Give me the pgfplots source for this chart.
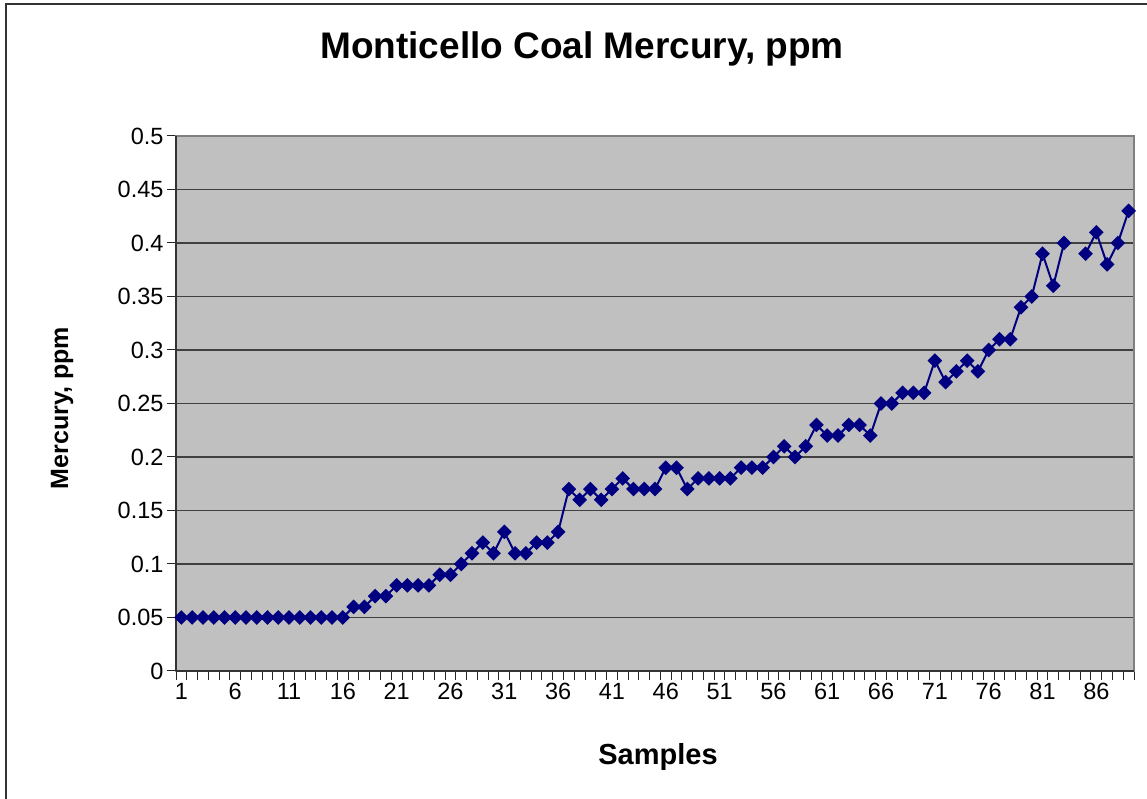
\documentclass[border=0pt]{standalone}
\usepackage{pgfplots}
\pgfplotsset{compat=1.18}
\usepackage{fontspec}
\setmainfont{Liberation Sans}
\definecolor{navyline}{RGB}{0,0,128}
\definecolor{plotbg}{RGB}{192,192,192}
\begin{document}
\begin{tikzpicture}
\path[use as bounding box] (0,0) rectangle (1147pt,799pt);
\draw[line width=2pt, black!80] (6pt,0) -- (6pt,795pt) -- (1147pt,795pt);
\begin{axis}[
  at={(176pt,128pt)}, anchor=south west,
  scale only axis, width=958pt, height=535pt,
  xmin=0.5, xmax=89.5, ymin=0, ymax=0.5,
  axis background/.style={fill=plotbg},
  axis line style={draw=black!50, line width=1.5pt},
  tick pos=left, tick align=outside,
  major tick length=9pt,
  every tick/.style={black!85, line width=1pt},
  xtick={0.5,1.5,...,89.5},
  xticklabels={1,,,,,6,,,,,11,,,,,16,,,,,21,,,,,26,,,,,31,,,,,36,,,,,41,,,,,46,,,,,51,,,,,56,,,,,61,,,,,66,,,,,71,,,,,76,,,,,81,,,,,86,,,,},
  xticklabel style={xshift=5.38pt},
  ytick={0,0.05,0.1,0.15,0.2,0.25,0.3,0.35,0.4,0.45,0.5},
  yticklabel style={/pgf/number format/fixed, /pgf/number format/precision=2},
  /pgf/number format/assume math mode=true,
  ticklabel style={font=\fontsize{23.5}{28}\selectfont},
  ymajorgrids,
  major grid style={black!75, line width=1.3pt},
  unbounded coords=jump,
  clip=false,
]
\addplot[navyline, line width=2pt, mark=square*, mark size=4.2pt, mark options={rotate=45, solid, fill=navyline}] table[x=s, y=hg] {
s hg
1 0.05
2 0.05
3 0.05
4 0.05
5 0.05
6 0.05
7 0.05
8 0.05
9 0.05
10 0.05
11 0.05
12 0.05
13 0.05
14 0.05
15 0.05
16 0.05
17 0.06
18 0.06
19 0.07
20 0.07
21 0.08
22 0.08
23 0.08
24 0.08
25 0.09
26 0.09
27 0.10
28 0.11
29 0.12
30 0.11
31 0.13
32 0.11
33 0.11
34 0.12
35 0.12
36 0.13
37 0.17
38 0.16
39 0.17
40 0.16
41 0.17
42 0.18
43 0.17
44 0.17
45 0.17
46 0.19
47 0.19
48 0.17
49 0.18
50 0.18
51 0.18
52 0.18
53 0.19
54 0.19
55 0.19
56 0.20
57 0.21
58 0.20
59 0.21
60 0.23
61 0.22
62 0.22
63 0.23
64 0.23
65 0.22
66 0.25
67 0.25
68 0.26
69 0.26
70 0.26
71 0.29
72 0.27
73 0.28
74 0.29
75 0.28
76 0.30
77 0.31
78 0.31
79 0.34
80 0.35
81 0.39
82 0.36
83 0.40
84 nan
85 0.39
86 0.41
87 0.38
88 0.40
89 0.43
};
\draw[black!80, line width=1.5pt] (rel axis cs:0,0) -- (rel axis cs:0,1);
\draw[black!80, line width=1.5pt] (rel axis cs:0,0) -- (rel axis cs:1,0);
\end{axis}
\node[anchor=base, font=\fontsize{37}{42}\selectfont\bfseries] at (582pt,740pt) {Monticello Coal Mercury, ppm};
\node[anchor=base, rotate=90, font=\fontsize{25}{30}\selectfont\bfseries] at (68pt,391pt) {Mercury, ppm};
\node[anchor=base, font=\fontsize{29}{34}\selectfont\bfseries] at (658pt,34pt) {Samples};
\end{tikzpicture}
\end{document}
